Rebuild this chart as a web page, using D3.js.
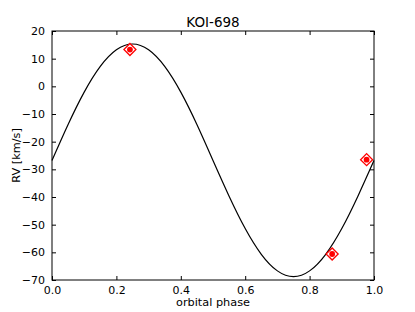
<!DOCTYPE html>
<html>
<head>
<meta charset="utf-8">
<script src="https://cdn.jsdelivr.net/npm/d3@7"></script>
<style>
  body { margin: 0; background: #fff; }
  text { font-family: "DejaVu Sans", sans-serif; fill: #000; }
</style>
</head>
<body>
<div id="chart"></div>
<script>
// model curve, every 0.05 in phase
const curvePhase = [0, 0.05, 0.10, 0.15, 0.20, 0.25, 0.30, 0.35, 0.40, 0.45, 0.50,
  0.55, 0.60, 0.65, 0.70, 0.75, 0.80, 0.85, 0.90, 0.95, 1.00];
const curveRV = [-26.8, -13.8, -2.1, 7.2, 13.2, 15.3, 13.2, 7.2, -2.1, -13.8, -26.8,
  -39.7, -51.4, -60.7, -66.7, -68.8, -66.7, -60.7, -51.4, -39.7, -26.8];

// measured points
const obsPhase = [0.242, 0.870, 0.977];
const obsRV = [13.3, -60.6, -26.5];

const xTicks = [0, 0.2, 0.4, 0.6, 0.8, 1.0];
const yTicks = [20, 10, 0, -10, -20, -30, -40, -50, -60, -70];

const W = 415, H = 312;
const margin = { top: 31, right: 41, bottom: 32, left: 52 };
const width = W - margin.left - margin.right;
const height = H - margin.top - margin.bottom;

const svg = d3.select("#chart").append("svg")
  .attr("width", W)
  .attr("height", H);

const g = svg.append("g")
  .attr("transform", `translate(${margin.left},${margin.top})`);

const x = d3.scaleLinear().domain([0, 1]).range([0, width]);
const y = d3.scaleLinear().domain([-70, 20]).range([height, 0]);

const fmtY = d => d3.format("d")(d).replace("-", "\u2212");

// --- axes, ticks pointing inward on all sides ---
const tickLen = 4;
g.append("g")
  .attr("transform", `translate(0,${height})`)
  .call(d3.axisBottom(x).tickValues(xTicks).tickFormat(d3.format(".1f"))
    .tickSizeInner(-tickLen).tickSizeOuter(0).tickPadding(6))
  .call(a => a.select(".domain").remove());

g.append("g")
  .call(d3.axisTop(x).tickValues(xTicks).tickFormat("")
    .tickSizeInner(-tickLen).tickSizeOuter(0))
  .call(a => a.select(".domain").remove());

g.append("g")
  .call(d3.axisLeft(y).tickValues(yTicks).tickFormat(fmtY)
    .tickSizeInner(-tickLen).tickSizeOuter(0).tickPadding(7))
  .call(a => a.select(".domain").remove());

g.append("g")
  .attr("transform", `translate(${width},0)`)
  .call(d3.axisRight(y).tickValues(yTicks).tickFormat("")
    .tickSizeInner(-tickLen).tickSizeOuter(0))
  .call(a => a.select(".domain").remove());

g.selectAll(".tick text")
  .style("font-family", "DejaVu Sans, sans-serif")
  .style("font-size", "11px")
  .attr("fill", "#000");
g.selectAll(".tick line").attr("stroke", "#000");

// --- model curve ---
const line = d3.line()
  .x((d, i) => x(curvePhase[i]))
  .y(d => y(d))
  .curve(d3.curveNatural);

g.append("path")
  .datum(curveRV)
  .attr("d", line)
  .attr("fill", "none")
  .attr("stroke", "#000")
  .attr("stroke-width", 1.2);

// --- observations: open diamond + filled dot ---
const obs = obsPhase.map((p, i) => ({ p: p, rv: obsRV[i] }));
const diamond = d3.symbol().type(d3.symbolSquare).size(72);

const pts = g.append("g");
pts.selectAll("path")
  .data(obs)
  .enter().append("path")
  .attr("d", diamond)
  .attr("transform", d => `translate(${x(d.p)},${y(d.rv)}) rotate(45)`)
  .attr("fill", "#fff")
  .attr("stroke", "#ff0000")
  .attr("stroke-width", 1.3);

pts.selectAll("circle")
  .data(obs)
  .enter().append("circle")
  .attr("cx", d => x(d.p))
  .attr("cy", d => y(d.rv))
  .attr("r", 2.9)
  .attr("fill", "#ff0000");

// frame
g.append("rect")
  .attr("width", width)
  .attr("height", height)
  .attr("fill", "none")
  .attr("stroke", "#000")
  .attr("stroke-width", 1);

// --- labels ---
svg.append("text")
  .attr("x", margin.left + width / 2)
  .attr("y", 27)
  .attr("text-anchor", "middle")
  .style("font-size", "13.5px")
  .text("KOI-698");

svg.append("text")
  .attr("x", margin.left + width / 2)
  .attr("y", 306)
  .attr("text-anchor", "middle")
  .style("font-size", "11.3px")
  .text("orbital phase");

svg.append("text")
  .attr("transform", `translate(20,${margin.top + height / 2}) rotate(-90)`)
  .attr("text-anchor", "middle")
  .style("font-size", "11.3px")
  .text("RV [km/s]");
</script>
</body>
</html>
